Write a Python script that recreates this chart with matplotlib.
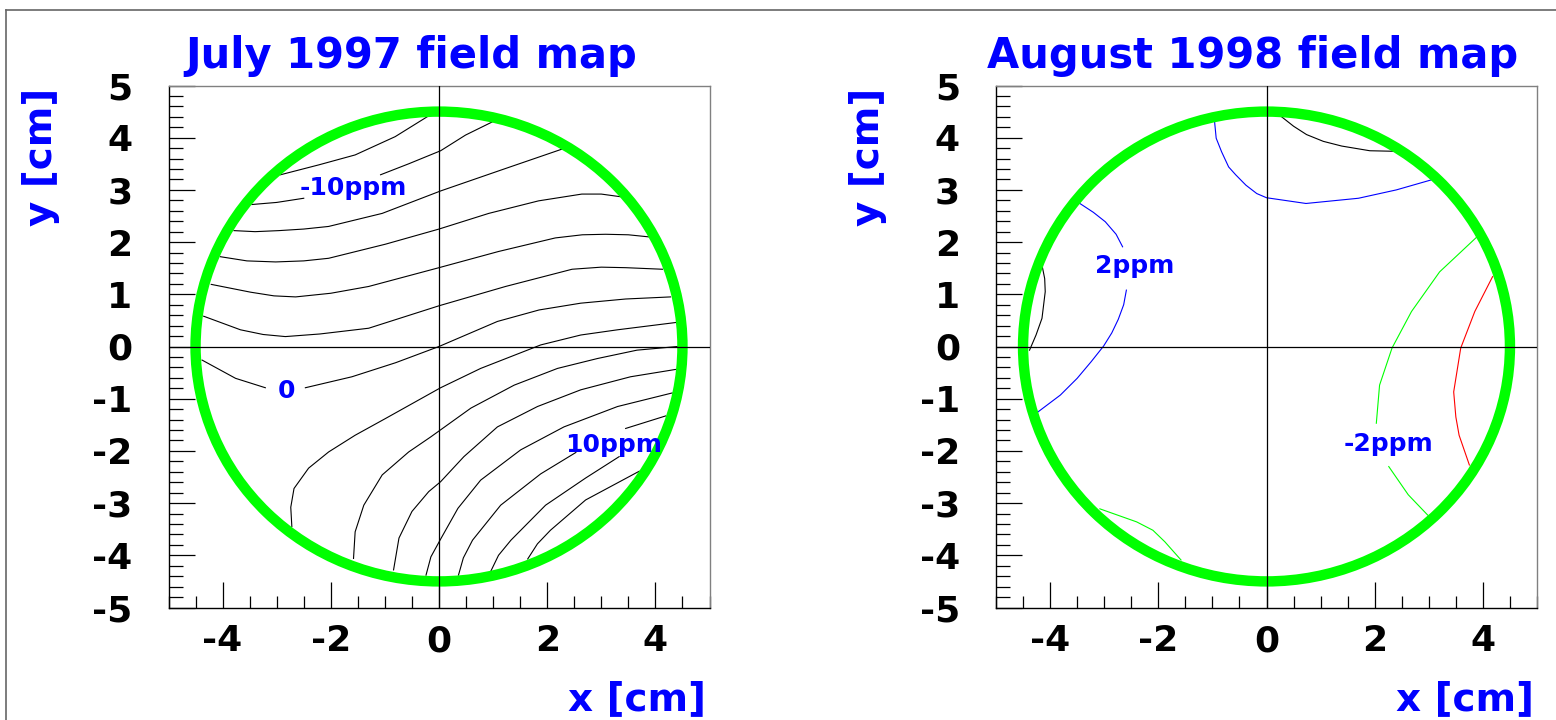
"""Field-map uniformity contours, July 1997 vs August 1998 (two panels)."""
import matplotlib; matplotlib.use('Agg')
import matplotlib.pyplot as plt
from matplotlib.patches import Circle
from matplotlib.lines import Line2D
from matplotlib.ticker import MultipleLocator

BLUE, GREEN, RED = '#0000ff', '#00ff00', '#ff0000'
R_MAP = 4.5  # cm, radius of the mapped aperture

# --- July 1997 contour lines (x list, y list in cm); 'a'/'b' = pieces split by a label
jul_01 = ([-2.93, -2.22, -1.55, -0.81, -0.22], [3.29, 3.48, 3.67, 4.02, 4.40])
jul_02a = ([-3.46, -3.00, -2.50], [2.72, 2.76, 2.84])
jul_02b = ([-1.08, -0.56, 0.03, 0.49, 0.98], [3.29, 3.50, 3.75, 4.05, 4.30])
jul_03 = ([-3.79, -3.40, -2.96, -2.50, -2.04, -1.05, 0.03, 1.23, 2.27],
          [2.22, 2.20, 2.22, 2.25, 2.30, 2.55, 2.98, 3.41, 3.78])
jul_04 = ([-4.04, -3.55, -3.02, -2.50, -2.04, -0.99, 0.0, 0.92, 1.84, 2.64, 3.00, 3.35],
          [1.72, 1.64, 1.62, 1.64, 1.69, 1.96, 2.25, 2.55, 2.79, 2.92, 2.92, 2.87])
jul_05 = ([-4.21, -3.48, -3.05, -2.65, -2.00, -1.30, 0.0, 1.10, 2.15, 2.65, 3.08, 3.50, 3.88],
          [1.19, 1.04, 0.97, 0.95, 1.02, 1.15, 1.51, 1.82, 2.08, 2.14, 2.15, 2.14, 2.10])
jul_06 = ([-4.35, -3.67, -3.25, -2.84, -2.20, -1.30, 0.0, 1.23, 2.46, 3.00, 3.45, 4.13],
          [0.58, 0.32, 0.23, 0.19, 0.24, 0.35, 0.78, 1.15, 1.48, 1.52, 1.51, 1.48])
jul_07a = ([-4.38, -3.76, -3.21], [-0.26, -0.61, -0.79])
jul_07b = ([-2.47, -1.61, -0.80, 0.0, 1.08, 1.85, 2.62, 3.45, 4.28],
           [-0.79, -0.58, -0.31, 0.0, 0.48, 0.70, 0.83, 0.91, 0.95])
jul_08 = ([-2.72, -2.74, -2.68, -2.41, -2.04, -1.55, -0.99, 0.03, 0.77, 1.88, 2.62, 3.30, 4.38],
          [-3.45, -3.08, -2.72, -2.33, -2.02, -1.70, -1.38, -0.79, -0.42, 0.03, 0.22, 0.32, 0.46])
jul_09 = ([-1.58, -1.55, -1.39, -1.05, -0.56, -0.15, 0.59, 1.39, 2.19, 2.93, 3.66, 4.41],
          [-4.06, -3.55, -3.04, -2.46, -2.02, -1.73, -1.18, -0.74, -0.42, -0.23, -0.07, 0.0])
jul_10 = ([-0.84, -0.74, -0.50, -0.19, 0.03, 0.46, 1.08, 1.82, 2.62, 3.54, 4.37],
          [-4.28, -3.67, -3.16, -2.78, -2.59, -2.11, -1.54, -1.15, -0.83, -0.58, -0.44])
jul_11 = ([-0.24, -0.15, 0.03, 0.35, 0.77, 1.51, 2.31, 3.30, 4.31],
          [-4.38, -4.03, -3.69, -3.10, -2.56, -1.98, -1.54, -1.15, -0.89])
jul_12a = ([0.36, 0.45, 0.62, 1.14, 1.88, 2.53], [-4.38, -4.05, -3.71, -3.04, -2.44, -2.03])
jul_12b = ([3.45, 4.19], [-1.57, -1.33])
jul_13 = ([0.96, 1.10, 1.33, 1.97, 2.71, 3.33], [-4.30, -4.00, -3.71, -3.04, -2.52, -2.11])
jul_14 = ([1.64, 1.82, 2.06, 2.71, 3.70], [-4.07, -3.78, -3.52, -2.94, -2.39])
jul_lines = [jul_01, jul_02a, jul_02b, jul_03, jul_04, jul_05, jul_06, jul_07a, jul_07b,
             jul_08, jul_09, jul_10, jul_11, jul_12a, jul_12b, jul_13, jul_14]
jul_colors = ['k'] * len(jul_lines)
jul_labels = [('-10ppm', -1.58, 2.90), ('0', -2.82, -0.98), ('10ppm', 3.22, -2.02)]

# --- August 1998 contour lines
aug_black_top = ([0.28, 0.50, 0.74, 1.05, 1.39, 1.91, 2.36], [4.40, 4.22, 4.06, 3.93, 3.84, 3.75, 3.74])
aug_blue_top = ([-0.96, -0.93, -0.83, -0.70, -0.57, -0.38, -0.18, 0.0, 0.73, 1.70, 2.40, 3.04],
                [4.31, 3.99, 3.73, 3.44, 3.29, 3.09, 2.93, 2.85, 2.74, 2.84, 3.00, 3.19])
aug_blue_left_a = ([-3.45, -3.20, -2.98, -2.78, -2.66], [2.74, 2.57, 2.39, 2.15, 1.91])
aug_blue_left_b = ([-2.59, -2.64, -2.74, -2.86, -3.01, -3.24, -3.50, -3.81, -4.22],
                   [1.08, 0.80, 0.52, 0.26, 0.01, -0.29, -0.61, -0.93, -1.25])
aug_black_left = ([-4.15, -4.10, -4.09, -4.15, -4.26, -4.38], [1.56, 1.30, 1.05, 0.54, 0.22, -0.07])
aug_green_right_a = ([3.89, 3.53, 3.20, 2.68, 2.32, 2.09, 2.03], [2.10, 1.75, 1.43, 0.67, -0.03, -0.74, -1.47])
aug_green_right_b = ([2.26, 2.62, 2.98], [-2.30, -2.84, -3.23])
aug_red = ([4.18, 3.85, 3.59, 3.46, 3.50, 3.56, 3.75], [1.34, 0.67, -0.03, -0.87, -1.35, -1.70, -2.27])
aug_green_low = ([-3.08, -2.40, -2.10, -1.88, -1.58], [-3.11, -3.36, -3.52, -3.74, -4.09])
aug_lines = [aug_black_top, aug_blue_top, aug_blue_left_a, aug_blue_left_b, aug_black_left,
             aug_green_right_a, aug_green_right_b, aug_red, aug_green_low]
aug_colors = ['k', BLUE, BLUE, BLUE, 'k', GREEN, GREEN, RED, GREEN]
aug_labels = [('2ppm', -2.43, 1.41), ('-2ppm', 2.26, -2.00)]

titles = ['July 1997 field map', 'August 1998 field map']

W, H = 1556, 720
plt.rcParams['font.family'] = ['DejaVu Sans']
plt.rcParams['axes.unicode_minus'] = False
fig = plt.figure(figsize=(W / 100, H / 100), dpi=100)

panels = [(168.5, jul_lines, jul_colors, jul_labels, 185, 41),
          (996.0, aug_lines, aug_colors, aug_labels, 987, 868)]
for k, (x0, lines, cols, labs, tx, ylx) in enumerate(panels):
    ax = fig.add_axes([x0 / W, (H - 607.5) / H, 541 / W, 522 / H])
    ax.set_xlim(-5, 5); ax.set_ylim(-5, 5)
    for (xs, ys), c in zip(lines, cols):
        ax.plot(xs, ys, '-', color=c, lw=0.8, zorder=2, solid_joinstyle='round')
    ax.add_patch(Circle((0, 0), R_MAP, fill=False, ec=GREEN, lw=7.5, zorder=3))
    ax.axhline(0, color='k', lw=0.9, zorder=4); ax.axvline(0, color='k', lw=0.9, zorder=4)
    for s, x, y in labs:
        ax.text(x, y, s, color=BLUE, fontsize=18, fontweight='bold', ha='center', va='baseline', zorder=5)

    ax.xaxis.set_major_locator(MultipleLocator(2)); ax.xaxis.set_minor_locator(MultipleLocator(0.5))
    ax.yaxis.set_major_locator(MultipleLocator(1)); ax.yaxis.set_minor_locator(MultipleLocator(0.2))
    ax.tick_params(axis='x', which='major', direction='in', length=19, width=0.9, pad=12, labelsize=26)
    ax.tick_params(axis='x', which='minor', direction='in', length=8.5, width=0.9)
    ax.tick_params(axis='y', which='major', direction='in', length=19, width=0.9, pad=26, labelsize=26)
    ax.tick_params(axis='y', which='minor', direction='in', length=10, width=0.9)
    for t in ax.get_xticklabels() + ax.get_yticklabels():
        t.set_fontweight('bold')
    for sp in ('top', 'right'):
        ax.spines[sp].set_color('#808080')
    for sp in ax.spines.values():
        sp.set_linewidth(1.0)

    fig.text(tx / W, (H - 68.3) / H, titles[k], color=BLUE, fontsize=30, fontweight='bold',
             ha='left', va='baseline')
    fig.text(ylx / W, (H - 88) / H, 'y [cm]', color=BLUE, fontsize=28, fontweight='bold',
             rotation=90, ha='center', va='top')
    fig.text((x0 + 538) / W, (H - 710) / H, 'x [cm]', color=BLUE, fontsize=28, fontweight='bold',
             ha='right', va='baseline')

# canvas border (top and left edges visible in the original)
fig.add_artist(Line2D([5.5 / W, 5.5 / W], [0, 1 - 9.7 / H], color='#666666', lw=1.2))
fig.add_artist(Line2D([5.5 / W, 1], [1 - 9.7 / H, 1 - 9.7 / H], color='#666666', lw=1.2))

fig.savefig('out.png', dpi=100)
